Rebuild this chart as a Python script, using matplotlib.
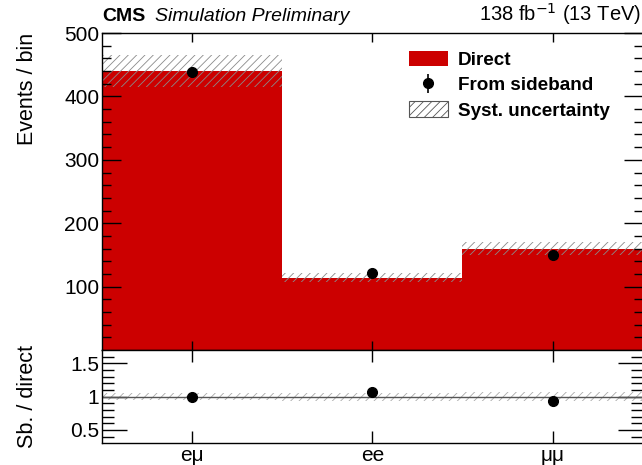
import numpy as np
import matplotlib
matplotlib.use("Agg")
import matplotlib.pyplot as plt
from matplotlib.patches import Patch

plt.rcParams['font.family'] = ['Liberation Sans', 'DejaVu Sans']
plt.rcParams['hatch.linewidth'] = 0.6

# data
channels = ['eμ', 'ee', 'μμ']
direct = [440, 114, 160]
sideband = [438, 122, 150]
syst = [25, 7, 10]

edges = np.arange(len(channels) + 1)
centers = edges[:-1] + 0.5
direct_a = np.array(direct, dtype=float)
syst_a = np.array(syst, dtype=float)
ratio = np.array(sideband) / direct_a
ratio_unc = syst_a / direct_a

red = '#cc0000'

fig = plt.figure(figsize=(6.42, 4.65), dpi=100)
ax = fig.add_axes([0.159, 0.247, 0.842, 0.682])
rax = fig.add_axes([0.159, 0.047, 0.842, 0.200], sharex=ax)

# main panel
ax.stairs(direct_a, edges, fill=True, color=red, label='Direct')
ax.bar(centers, 2 * syst_a, bottom=direct_a - syst_a, width=1.0,
       fill=False, hatch='////', edgecolor='#8a8a8a', linewidth=0,
       label='Syst. uncertainty')
ax.errorbar(centers, sideband, yerr=np.zeros(3), fmt='o', color='black',
            markersize=7, elinewidth=1.2, label='From sideband')

ax.set_xlim(0, 3)
ax.set_ylim(0, 500)
ax.set_yticks([100, 200, 300, 400, 500])
ax.set_yticks(np.arange(20, 500, 20), minor=True)
ax.set_ylabel('Events / bin', fontsize=15.5, loc='top')
ax.tick_params(axis='y', which='both', direction='in', left=True, right=True,
               labelsize=15, width=1, pad=2)
ax.tick_params(axis='y', which='major', length=13.5)
ax.tick_params(axis='y', which='minor', length=6.8)
ax.tick_params(axis='x', which='both', direction='in', top=True, bottom=True,
               labelbottom=False, length=6.5, width=1)

h, l = ax.get_legend_handles_labels()
order = [l.index('Direct'), l.index('From sideband'), l.index('Syst. uncertainty')]
handles = [h[i] for i in order]
handles[2] = Patch(facecolor='white', edgecolor='#555555', hatch='////',
                   linewidth=0.8)
leg = ax.legend(handles, [l[i] for i in order], loc='upper left',
                bbox_to_anchor=(0.61, 0.927), bbox_transform=fig.transFigure,
                frameon=False, prop={'weight': 'bold', 'size': 13.6},
                handlelength=2.1, handleheight=0.85, labelspacing=0.38,
                handletextpad=0.5)

fig.text(0.159, 0.955, 'CMS', fontsize=14, fontweight='bold', va='baseline')
fig.text(0.241, 0.955, 'Simulation Preliminary', fontsize=14,
         fontstyle='italic', va='baseline')
fig.text(0.999, 0.955, r'138 fb$^{-1}$ (13 TeV)', fontsize=14.5,
         ha='right', va='baseline')

# ratio panel
rax.bar(centers, 2 * ratio_unc, bottom=1 - ratio_unc, width=1.0,
        fill=False, hatch='////', edgecolor='#aaaaaa', linewidth=0)
rax.axhline(1.0, color='#555555', linewidth=1.0)
rax.plot(centers, ratio, 'o', color='black', markersize=7)

rax.set_ylim(0.3, 1.7)
rax.set_yticks([0.5, 1.0, 1.5])
rax.set_yticklabels(['0.5', '1', '1.5'])
rax.set_yticks(np.arange(0.4, 1.7, 0.1), minor=True)
rax.set_ylabel('Sb. / direct', fontsize=15.5)
rax.yaxis.set_label_coords(-0.118, 0.5)
ax.yaxis.set_label_coords(-0.118, 1.0)
rax.set_xticks(centers)
rax.set_xticklabels(channels)
rax.tick_params(axis='y', which='both', direction='in', left=True, right=True,
                labelsize=15, width=1, pad=2)
rax.tick_params(axis='y', which='major', length=18)
rax.tick_params(axis='y', which='minor', length=8.6)
rax.tick_params(axis='x', which='both', direction='in', top=True, bottom=True,
                labelsize=15, length=8.6, width=1, pad=2)
rax.tick_params(axis='x', which='minor', top=False, bottom=False)
ax.tick_params(axis='x', which='minor', top=False, bottom=False)

for a in (ax, rax):
    for s in a.spines.values():
        s.set_linewidth(1.0)

fig.savefig('out.png', dpi=100)
